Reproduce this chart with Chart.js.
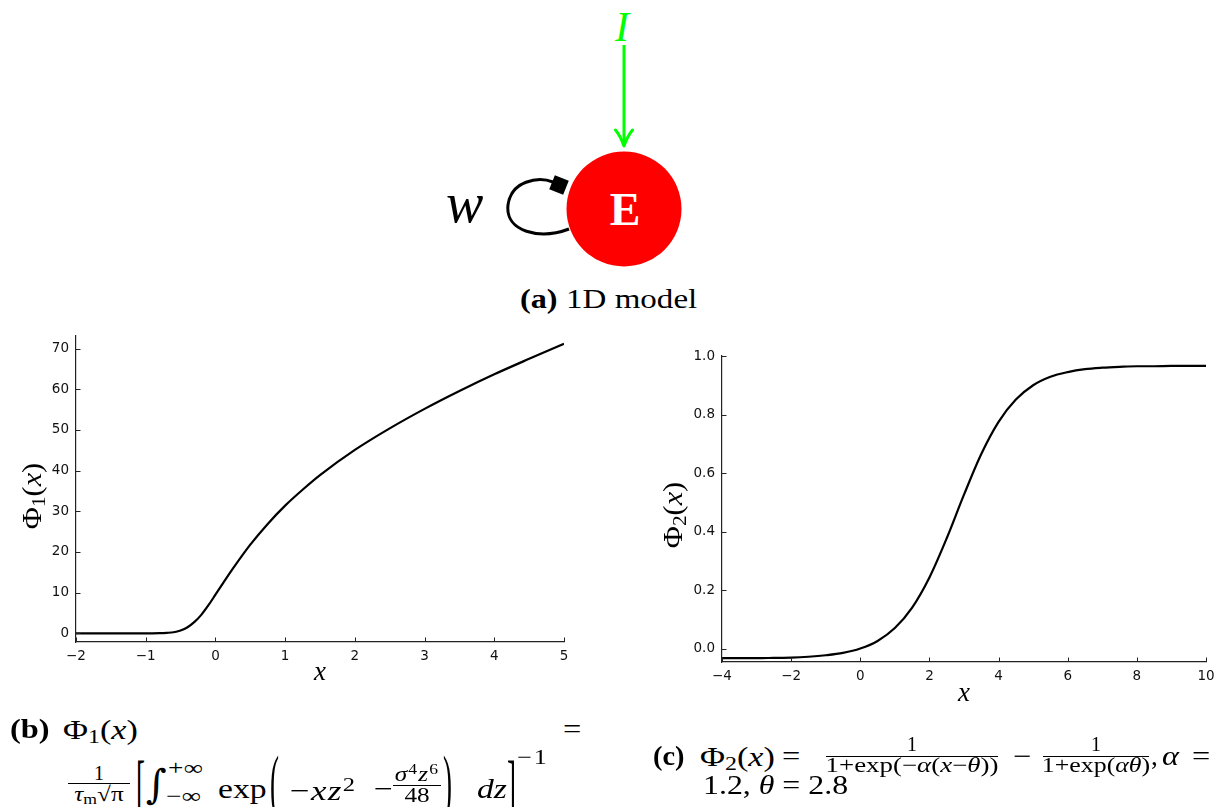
<!DOCTYPE html>
<html>
<head>
<meta charset="utf-8">
<script src="https://cdn.jsdelivr.net/npm/chart.js@4.4.0/dist/chart.umd.min.js"></script>
<style>
  html, body { margin: 0; padding: 0; background: #fff; width: 1227px; height: 807px; overflow: hidden; position: relative; }
  .t { position: absolute; line-height: 1; white-space: nowrap; font-family: "Liberation Serif", "DejaVu Serif", serif; color: #000; }
  .sb { font-size: 0.7em; vertical-align: -0.22em; }
  .sp { font-size: 0.7em; vertical-align: 0.45em; }
  .bar { position: absolute; height: 1.2px; background: #000; }
  canvas { position: absolute; }
</style>
</head>
<body>
<svg width="1227" height="320" style="position:absolute;left:0;top:0">
  <line x1="624" y1="45" x2="624" y2="144" stroke="#00ff00" stroke-width="3"/>
  <path d="M615.5 130 Q620.5 136 624 146 Q627.5 136 632.5 130" fill="none" stroke="#00ff00" stroke-width="3" stroke-linecap="round" stroke-linejoin="round"/>
  <circle cx="624" cy="209" r="57.5" fill="#ff0000"/>
  <path d="M569 229 C 540 240, 505 232, 508 205 C 511 181, 538 176, 553 182" fill="none" stroke="#000" stroke-width="3"/>
  <rect x="-7.5" y="-7.5" width="15" height="15" transform="translate(559 185) rotate(22)" fill="#000"/>
</svg>
<canvas id="phi1" width="600" height="380" style="left:0;top:320px"></canvas>
<canvas id="phi2" width="587" height="380" style="left:640px;top:330px"></canvas>
<script>
// Φ1: sampled points of the escape-rate transfer function
const phi1X = [-2, -1.5, -1, -0.8, -0.7, -0.6, -0.5, -0.4, -0.3, -0.2, -0.1, 0, 0.1, 0.25, 0.5, 0.75, 1, 1.25, 1.5, 2, 2.5, 3, 3.5, 4, 4.5, 5];
const phi1Y = [0, 0, 0, 0.05, 0.12, 0.25, 0.7, 1.5, 2.8, 4.6, 6.9, 9.5, 12.1, 15.9, 21.8, 26.9, 31.4, 35.3, 38.9, 45.1, 50.4, 55.2, 59.6, 63.7, 67.5, 71.2];
const phi1XTicks = [-2, -1, 0, 1, 2, 3, 4, 5];
const phi1YTicks = [0, 10, 20, 30, 40, 50, 60, 70];

// Φ2: sampled points of the shifted sigmoid
const phi2X = [-4, -3.5, -3, -2.5, -2, -1.5, -1, -0.5, 0, 0.5, 1, 1.5, 2, 2.5, 3, 3.5, 4, 4.5, 5, 5.5, 6, 6.5, 7, 7.5, 8, 8.5, 9, 9.5, 10];
const phi2Y = [-0.033, -0.033, -0.033, -0.032, -0.031, -0.028, -0.023, -0.015, 0.0, 0.026, 0.070, 0.140, 0.243, 0.377, 0.526, 0.665, 0.775, 0.851, 0.900, 0.929, 0.945, 0.955, 0.960, 0.963, 0.965, 0.965, 0.966, 0.966, 0.966];
const phi2XTicks = [-4, -2, 0, 2, 4, 6, 8, 10];
const phi2YTicks = [0.0, 0.2, 0.4, 0.6, 0.8, 1.0];

const minus = v => (v < 0 ? '\u2212' + Math.abs(v) : String(v));

// short tick marks pointing into the plot area
const inwardTicks = {
  id: 'inwardTicks',
  afterDraw(chart) {
    const { ctx, chartArea: a, scales: { x, y } } = chart;
    ctx.save();
    ctx.strokeStyle = '#222';
    ctx.lineWidth = 1;
    ctx.beginPath();
    x.ticks.forEach(t => {
      const px = Math.round(x.getPixelForValue(t.value)) + 0.5;
      ctx.moveTo(px, a.bottom); ctx.lineTo(px, a.bottom - 4.5);
    });
    y.ticks.forEach(t => {
      const py = Math.round(y.getPixelForValue(t.value)) + 0.5;
      ctx.moveTo(a.left, py); ctx.lineTo(a.left + 4.5, py);
    });
    ctx.stroke();
    ctx.restore();
  }
};

function makeChart(id, xs, ys, xt, yt, xr, yr, yFmt, pad, yW, xH) {
  const tickFont = { family: 'DejaVu Sans', size: 13.5 };
  return new Chart(document.getElementById(id), {
    type: 'line',
    data: { datasets: [{
      data: xs.map((x, i) => ({ x, y: ys[i] })),
      borderColor: '#000', borderWidth: 2.2, pointRadius: 0,
      cubicInterpolationMode: 'monotone', fill: false
    }] },
    options: {
      responsive: false, animation: false, devicePixelRatio: 1,
      layout: { padding: pad },
      plugins: { legend: { display: false }, tooltip: { enabled: false } },
      scales: {
        x: {
          type: 'linear', min: xr[0], max: xr[1],
          afterBuildTicks: s => { s.ticks = xt.map(v => ({ value: v })); },
          afterFit: s => { s.height = xH; },
          grid: { display: true, drawOnChartArea: false, drawTicks: false },
          border: { display: true, color: '#222', width: 1.2 },
          ticks: { padding: 6, font: tickFont, color: '#111', maxRotation: 0, callback: v => minus(v) }
        },
        y: {
          type: 'linear', min: yr[0], max: yr[1],
          afterBuildTicks: s => { s.ticks = yt.map(v => ({ value: v })); },
          afterFit: s => { s.width = yW; },
          grid: { display: true, drawOnChartArea: false, drawTicks: false },
          border: { display: true, color: '#222', width: 1.2 },
          ticks: { padding: 7, font: tickFont, color: '#111', callback: yFmt }
        }
      }
    },
    plugins: [inwardTicks]
  });
}

makeChart('phi1', phi1X, phi1Y, phi1XTicks, phi1YTicks, [-2, 5], [-2.14, 73.34],
  v => minus(v), { left: 0, top: 14, right: 36, bottom: 0 }, 76, 58);
makeChart('phi2', phi2X, phi2Y, phi2XTicks, phi2YTicks, [-4, 10], [-0.046, 1.0],
  v => v.toFixed(1), { left: 0, top: 26, right: 21, bottom: 0 }, 82, 48);

// text placement: x = left edge (or centre), base = baseline in px,
// sx widens the serif face a little to suit the caption typesetting
function put(html, x, base, size, o = {}) {
  const d = document.createElement('div');
  d.className = 't';
  d.style.fontSize = size + 'px';
  d.style.left = x + 'px';
  d.style.top = (base - 0.8375 * size) + 'px';
  if (o.bold) d.style.fontWeight = 'bold';
  if (o.it) d.style.fontStyle = 'italic';
  if (o.color) d.style.color = o.color;
  if (o.ls) d.style.letterSpacing = o.ls + 'px';
  if (o.font) d.style.fontFamily = o.font;
  const sx = o.sx || 1;
  if (o.center) {
    d.style.transform = 'translateX(-50%) scaleX(' + sx + ')';
  } else if (sx !== 1) {
    d.style.transformOrigin = '0 50%';
    d.style.transform = 'scaleX(' + sx + ')';
  }
  d.innerHTML = html;
  document.body.appendChild(d);
  return d;
}
function bigDelim(ch, x, cy, h, size = 27) {
  const s = h / (0.87 * size);
  const d = put(ch, x, cy + 0.255 * size, size);
  d.style.transformOrigin = '50% ' + (0.58 * size) + 'px';
  d.style.transform = 'scaleY(' + s.toFixed(3) + ')';
  return d;
}
function bar(x1, x2, y) {
  const d = document.createElement('div');
  d.className = 'bar';
  d.style.left = x1 + 'px'; d.style.width = (x2 - x1) + 'px'; d.style.top = y + 'px';
  document.body.appendChild(d);
}
function axisTitle(html, cx, cy, size, rot) {
  const d = document.createElement('div');
  d.className = 't';
  d.style.fontSize = size + 'px';
  d.style.left = cx + 'px';
  d.style.top = cy + 'px';
  d.style.transform = 'translate(-50%,-50%)' + (rot ? ' rotate(-90deg) scaleX(1.12)' : '');
  d.innerHTML = html;
  document.body.appendChild(d);
}

// network diagram labels
put('I', 622, 41, 42, { it: true, color: '#00ff00', center: true });
put('w', 446, 222, 56, { it: true });
put('E', 625, 226, 46, { bold: true, color: '#fff', center: true });

// axis titles
axisTitle('Φ<span class="sb">1</span>(<i>x</i>)', 34, 496, 27, true);
axisTitle('<i>x</i>', 320, 671, 27, false);
axisTitle('Φ<span class="sb">2</span>(<i>x</i>)', 675, 515, 27, true);
axisTitle('<i>x</i>', 964, 692, 27, false);

// (a)
put('(a)', 520, 308, 28, { bold: true, sx: 1.15 });
put('1D model', 566, 308, 28, { sx: 1.18 });

// (b)
put('(b)', 10, 739, 27, { bold: true, sx: 1.2 });
put('Φ<span class="sb">1</span>(<i>x</i>)', 63, 739, 28, { sx: 1.22 });
put('=', 563, 739, 27, { sx: 1.2 });
put('1', 99, 780, 20, { center: true });
bar(68, 130, 783);
put('<i>τ</i><span class="sb">m</span>√π', 99, 802, 21, { center: true, sx: 1.2 });
bigDelim('[', 136, 795, 64);
put('∫', 146, 797, 40, { font: '"DejaVu Serif", serif' });
put('+∞', 168, 776, 21, { sx: 1.3 });
put('−∞', 166, 804, 21, { sx: 1.3 });
put('exp', 218, 798, 28, { sx: 1.2 });
bigDelim('(', 270, 790, 64);
put('−<i>xz</i><span class="sp">2</span>', 290, 798, 28, { sx: 1.25, ls: 1 });
put('−', 374, 798, 28, { sx: 1.2 });
put('<i>σ</i><span class="sp">4</span><i>z</i><span class="sp">6</span>', 417, 780, 21, { center: true, sx: 1.2, ls: 1 });
bar(393, 441, 785);
put('48', 417, 803, 21, { center: true, sx: 1.2 });
bigDelim(')', 443, 790, 64);
put('<i>dz</i>', 477, 798, 28, { sx: 1.2 });
bigDelim(']', 507, 795, 64);
put('−1', 517, 765, 21, { sx: 1.25, ls: 1.5 });

// (c)
put('(c)', 653, 766, 27, { bold: true, sx: 1.05 });
put('Φ<span class="sb">2</span>(<i>x</i>)', 700, 766, 28, { sx: 1.22 });
put('=', 782, 766, 27, { sx: 1.2 });
put('1', 912, 751, 20, { center: true });
bar(826, 998, 756);
put('1+exp(−<i>α</i>(<i>x</i>−<i>θ</i>))', 912, 773, 21, { center: true, sx: 1.28 });
put('−', 1013, 766, 27, { sx: 1.2 });
put('1', 1096, 751, 20, { center: true });
bar(1043, 1149, 756);
put('1+exp(<i>αθ</i>)', 1096, 773, 21, { center: true, sx: 1.23 });
put(',', 1151, 766, 27);
put('<i>α</i> =', 1162, 766, 27, { sx: 1.2, ls: 2 });
put('1.2, <i>θ</i> = 2.8', 703, 795, 27, { sx: 1.18 });
</script>
</body>
</html>
